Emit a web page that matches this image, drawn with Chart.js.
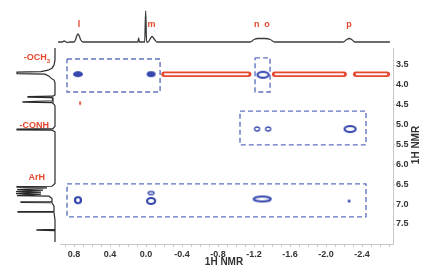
<!DOCTYPE html>
<html>
<head>
<meta charset="utf-8">
<script src="https://cdn.jsdelivr.net/npm/chart.js@4"></script>
<style>
  html, body { margin: 0; padding: 0; background: #fff; }
  #wrap { width: 434px; height: 272px; }
</style>
</head>
<body>
<div id="wrap"><canvas id="noesy" width="434" height="272"></canvas></div>
<script>
// axis ticks (ppm)
const xTicks = [0.8, 0.4, 0.0, -0.4, -0.8, -1.2, -1.6, -2.0, -2.4];
const yTicks = [3.5, 4.0, 4.5, 5.0, 5.5, 6.0, 6.5, 7.0, 7.5];

// F2 projection on top: shift (ppm) / intensity
const topShift = [0.978, 0.93, 0.91, 0.89, 0.87, 0.85, 0.80, 0.785, 0.77, 0.756, 0.742, 0.725, 0.70,
  0.09, 0.082, 0.074, 0.015, 0.004, -0.006, -0.025, -0.045, -0.067, -0.09, -0.12,
  -1.156, -1.20, -1.24, -1.32, -1.38, -1.43, -2.19, -2.23, -2.256, -2.285, -2.32, -2.71];
const topInt = [0, 0, 1, 0, -0.5, 0, 0, 2, 6, 8, 6, 2, 0,
  0, 4, 0, 0, 31, 0, 0, 3, 5.5, 3, 0,
  0, 2.5, 3.5, 3.5, 2.5, 0, 0, 2.5, 3.5, 2.5, 0, 0];

// F1 projection on the left
const sideShift = [3.07, 3.38, 3.50, 3.58, 3.63, 3.665, 3.68, 3.715, 3.73, 3.78, 3.83, 3.88, 3.95,
  4.25, 4.285, 4.295, 4.31, 4.32, 4.40, 4.425, 4.435, 4.445, 4.49, 4.53,
  5.04, 5.10, 5.115, 5.13, 5.14, 5.18,
  6.48, 6.55, 6.56, 6.575, 6.59, 6.635, 6.65, 6.685, 6.70, 6.735, 6.75, 6.785, 6.80, 6.86,
  6.935, 6.945, 6.955, 6.965, 7.05, 7.18, 7.19, 7.20, 7.21, 7.40, 7.635, 7.645, 7.655, 7.665, 7.95];
const sideInt = [0, 0, 1, 3, 7, 14, 38, 38, 10, 6, 4, 1, 0,
  0, 2, 27, 27, 3, 2, 32, 32, 3, 1, 0,
  0, 2, 38, 38, 3, 0,
  0, 3, 38, 38, 8, 38, 12, 39, 14, 39, 14, 38, 6, 3,
  3, 34, 34, 3, 1, 1, 37, 37, 1, 0, 0, 18, 18, 0, 0];

// cross peaks (blue, NOE)
const crossF2 = [0.756, -0.056, -1.30, -1.233, -1.356, -2.267, 0.756, -0.056, -0.056, -1.29, -2.256];
const crossF1 = [3.73, 3.73, 3.745, 5.11, 5.11, 5.11, 6.90, 6.72, 6.92, 6.87, 6.92];

// exchange ridges (red) along the OCH3 row
const ridgeFrom = [-0.20, -1.43, -2.33];
const ridgeTo = [-1.14, -2.20, -2.68];
const ridgeF1 = 3.735;
const stray = [{ x: 0.733, y: 4.46 }];

// dashed boxes
const boxLeft = [0.878, -1.211, -1.044, 0.878];
const boxRight = [-0.156, -1.378, -2.444, -2.444];
const boxTop = [3.35, 3.32, 4.66, 6.49];
const boxBottom = [4.18, 4.18, 5.51, 7.32];

// labels
const peakLetters = ['l', 'm', 'n', 'o', 'p'];
const peakLetterShift = [0.745, -0.06, -1.23, -1.345, -2.256];
const groupNames = ['-OCH', '-CONH', 'ArH'];
const groupSubs = ['3', '', ''];
const groupShift = [3.32, 5.03, 6.34];

const RED = '#e5482f';
const BLUE = '#3546ad';
const FONT = '"Liberation Sans", Arial, sans-serif';

function blob(kind, w, h, color) {
  const c = document.createElement('canvas');
  c.width = w + 4;
  c.height = h + 4;
  const g = c.getContext('2d');
  g.beginPath();
  g.ellipse(c.width / 2, c.height / 2, w / 2, h / 2, 0, 0, Math.PI * 2);
  if (kind === 'fill') {
    g.fillStyle = color;
    g.fill();
  } else {
    g.lineWidth = kind === 'thick' ? 2.2 : 1.3;
    g.strokeStyle = color;
    g.stroke();
  }
  return c;
}

const crossLook = [
  ['fill', 10, 6], ['fill', 9, 6], ['thick', 11, 6], ['ring', 5, 4], ['ring', 5, 4], ['thick', 11, 6],
  ['thick', 6, 6], ['ring', 6, 3], ['thick', 8, 6], ['thick', 17, 5], ['fill', 3, 3]
].map(s => blob(s[0], s[1], s[2], BLUE));

const datasets = [];

datasets.push({
  data: crossF2.map((v, i) => ({ x: v, y: crossF1[i] })),
  pointStyle: crossLook,
  pointRadius: 3,
  showLine: false
});
datasets.push({
  data: stray,
  pointStyle: blob('fill', 2, 4, RED),
  pointRadius: 3,
  showLine: false
});

// ridge interiors, then ridge outlines
ridgeFrom.forEach((v, i) => {
  datasets.push({
    data: [{ x: v - 0.01, y: ridgeF1 }, { x: ridgeTo[i] + 0.01, y: ridgeF1 }],
    showLine: true, borderColor: '#fff4f3', borderWidth: 2, borderCapStyle: 'round',
    pointRadius: 0
  });
});
ridgeFrom.forEach((v, i) => {
  datasets.push({
    data: [{ x: v, y: ridgeF1 }, { x: ridgeTo[i], y: ridgeF1 }],
    showLine: true, borderColor: RED, borderWidth: 5.5, borderCapStyle: 'round',
    pointRadius: 0
  });
});

boxLeft.forEach((l, i) => {
  const r = boxRight[i], t = boxTop[i], b = boxBottom[i];
  datasets.push({
    data: [{ x: l, y: t }, { x: r, y: t }, { x: r, y: b }, { x: l, y: b }, { x: l, y: t }],
    showLine: true, borderColor: '#6074c0', borderWidth: 1.4, borderDash: [5, 3],
    pointRadius: 0
  });
});

datasets.push({
  data: topShift.map((v, i) => ({ x: v, y: topInt[i] })),
  yAxisID: 'yTop',
  showLine: true, borderColor: '#3c3c3c', borderWidth: 1.3, pointRadius: 0,
  cubicInterpolationMode: 'monotone', clip: false
});
datasets.push({
  data: sideShift.map((v, i) => ({ x: sideInt[i], y: v })),
  xAxisID: 'xSide',
  showLine: true, borderColor: '#2a2a2a', borderWidth: 1.2, pointRadius: 0,
  tension: 0, clip: false
});

const minorX = [];
for (let k = 9; k >= -27; k--) minorX.push({ value: k / 10 });

const annotate = {
  id: 'annotate',
  afterDraw(chart) {
    const { ctx } = chart;
    const x = chart.scales.x, y = chart.scales.y;
    ctx.save();
    ctx.fillStyle = RED;
    ctx.font = 'bold 9px ' + FONT;
    ctx.textAlign = 'center';
    ctx.textBaseline = 'middle';
    peakLetters.forEach((t, i) => ctx.fillText(t, x.getPixelForValue(peakLetterShift[i]), 25));

    const rightEdge = [50, 49, 45];
    groupNames.forEach((t, i) => {
      const py = y.getPixelForValue(groupShift[i]);
      ctx.font = 'bold 9px ' + FONT;
      const w1 = ctx.measureText(t).width;
      ctx.font = 'bold 6px ' + FONT;
      const w2 = groupSubs[i] ? ctx.measureText(groupSubs[i]).width : 0;
      const x0 = rightEdge[i] - w1 - w2;
      ctx.textAlign = 'left';
      ctx.font = 'bold 9px ' + FONT;
      ctx.fillText(t, x0, py);
      if (w2) {
        ctx.font = 'bold 6px ' + FONT;
        ctx.fillText(groupSubs[i], x0 + w1, py + 3);
      }
    });

    ctx.fillStyle = '#333';
    ctx.font = 'bold 10px ' + FONT;
    ctx.textAlign = 'center';
    ctx.fillText('1H NMR', 224, 262);
    ctx.translate(416, 145);
    ctx.rotate(-Math.PI / 2);
    ctx.fillText('1H NMR', 0, 0);
    ctx.restore();
  }
};

new Chart(document.getElementById('noesy'), {
  type: 'scatter',
  data: { datasets },
  options: {
    responsive: false,
    animation: false,
    events: [],
    layout: { padding: { left: 60, top: 48, right: 0, bottom: 0 } },
    plugins: { legend: { display: false }, tooltip: { enabled: false } },
    scales: {
      x: {
        type: 'linear', position: 'bottom', reverse: true,
        min: -2.744, max: 0.956,
        afterFit: s => { s.height = 28; },
        afterBuildTicks: s => { s.ticks = minorX.map(t => ({ value: t.value })); },
        ticks: {
          autoSkip: false, maxRotation: 0, padding: 2, color: '#333',
          font: { family: FONT, size: 9, weight: 'bold' },
          callback: v => {
            const hit = xTicks.find(t => Math.abs(t - v) < 1e-6);
            return hit === undefined ? '' : hit.toFixed(1);
          }
        },
        grid: { drawOnChartArea: false, tickLength: 3, color: '#c8c8c8' },
        border: { color: '#c8c8c8' }
      },
      y: {
        type: 'linear', position: 'right', reverse: true,
        min: 3.072, max: 8.003,
        afterFit: s => { s.width = 41; },
        afterBuildTicks: s => { s.ticks = yTicks.map(v => ({ value: v })); },
        ticks: {
          padding: 1, color: '#333',
          font: { family: FONT, size: 9, weight: 'bold' },
          callback: v => v.toFixed(1)
        },
        grid: { drawOnChartArea: false, tickLength: 2, color: '#c8c8c8' },
        border: { color: '#c8c8c8' }
      },
      yTop: { type: 'linear', display: false, min: -202, max: -6 },
      xSide: { type: 'linear', display: false, reverse: true, min: -338, max: -5 }
    }
  },
  plugins: [annotate]
});
</script>
</body>
</html>
